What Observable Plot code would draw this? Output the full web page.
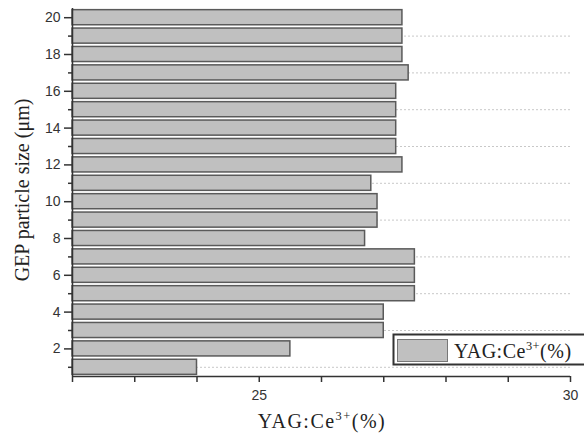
<!DOCTYPE html>
<html><head><meta charset="utf-8">
<script src="https://cdn.jsdelivr.net/npm/d3@7"></script>
<script src="https://cdn.jsdelivr.net/npm/@observablehq/plot@0.6"></script>
<style>
body{margin:0;background:#fff;}
#chart{position:relative;width:584px;height:439px;}
</style>
</head><body><div id="chart"></div>
<script>
const sizes = [1,2,3,4,5,6,7,8,9,10,11,12,13,14,15,16,17,18,19,20];
const yag = [24.0,25.5,27.0,27.0,27.5,27.5,27.5,26.7,26.9,26.9,26.8,27.3,27.2,27.2,27.2,27.2,27.4,27.3,27.3,27.3];
const yMajor = [2,4,6,8,10,12,14,16,18,20];
const yMinor = [1,3,5,7,9,11,13,15,17,19];
const xMajor = [25,30];
const xMinor = [22,23,24,26,27,28,29];
const gridY = [1,3,5,7,9,11,13,15,17,19];
const xLabelMain = "YAG:Ce";
const xLabelSup = "3+";
const xLabelEnd = "(%)";
const yLabel = "GEP particle size (\u03bcm)";

const data = sizes.map((s,i)=>({size:s, value:yag[i]}));
const half = 0.41;

const plot = Plot.plot({
  width:584, height:439,
  marginLeft:72, marginRight:14, marginTop:8, marginBottom:63,
  x:{domain:[22,30]},
  y:{domain:[0.5,20.5]},
  style:{fontFamily:"Liberation Sans, Arial, sans-serif", fontSize:"14px", color:"#333", background:"#fff"},
  marks:[
    Plot.ruleY(gridY,{x1:22,x2:30,stroke:"#c8c8c8",strokeDasharray:"2,2",strokeWidth:1}),
    Plot.rectX(data,{y1:d=>d.size-half,y2:d=>d.size+half,x1:22,x2:"value",fill:"#c0c0c0",stroke:"#5a5a5a",strokeWidth:1.5}),
    Plot.ruleX([22],{y1:0.5,y2:20.5,stroke:"#333",strokeWidth:1.5}),
    Plot.ruleY([0.5],{x1:22,x2:30,stroke:"#333",strokeWidth:1.5}),
    Plot.axisY({ticks:yMajor,tickSize:8,tickPadding:4,label:null,fontSize:14,stroke:"#333",strokeWidth:1.5,color:"#333"}),
    Plot.axisY({ticks:yMinor,tickSize:4,tickFormat:()=>"",label:null,stroke:"#333",strokeWidth:1.5}),
    Plot.axisX({ticks:xMajor,tickSize:6,tickPadding:8,label:null,fontSize:14,stroke:"#333",strokeWidth:1.5}),
    Plot.axisX({ticks:xMinor,tickSize:6,tickFormat:()=>"",label:null,stroke:"#333",strokeWidth:1.5})
  ]
});
document.getElementById("chart").appendChild(plot);

const svg = d3.select(plot);
const serif = "Liberation Serif, Times New Roman, serif";
function supLabel(g, x, y, size, anchor, spacing){
  const t = g.append("text").attr("x",x).attr("y",y).attr("text-anchor",anchor)
    .attr("font-family",serif).attr("font-size",size).attr("fill","#222").attr("letter-spacing",spacing+"px");
  t.append("tspan").text(xLabelMain);
  t.append("tspan").attr("font-size",size*0.62).attr("dy",-size*0.38).text(xLabelSup);
  t.append("tspan").attr("dy",size*0.38).text(xLabelEnd);
  return t;
}
// x label
supLabel(svg, 322, 428, 20, "middle", 1.5);
// y label
svg.append("text").attr("transform","translate(29,190) rotate(-90)").attr("text-anchor","middle")
  .attr("font-family",serif).attr("font-size",20).attr("fill","#222").text(yLabel);
// legend
const lg = svg.append("g");
lg.append("rect").attr("x",393.5).attr("y",334.5).attr("width",200).attr("height",30)
  .attr("fill","#fff").attr("stroke","#333").attr("stroke-width",2);
lg.append("rect").attr("x",397.5).attr("y",339.5).attr("width",50).attr("height",22)
  .attr("fill","#c0c0c0").attr("stroke","#777").attr("stroke-width",1);
supLabel(lg, 454, 358, 20, "start", 0.5);
</script></body></html>
